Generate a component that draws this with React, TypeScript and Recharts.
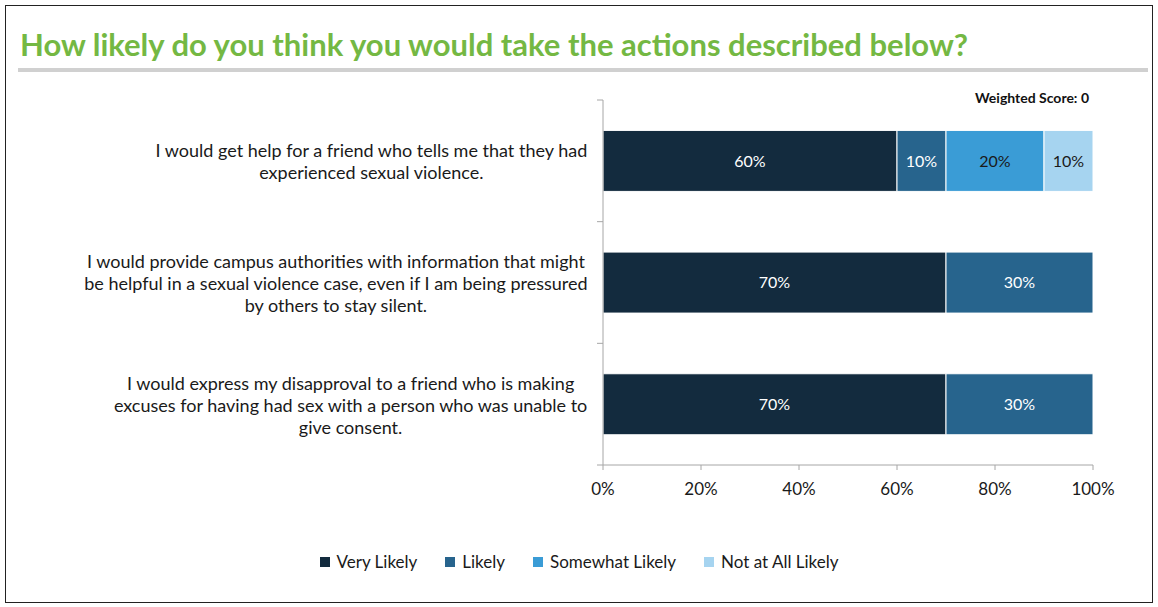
import { BarChart, Bar, XAxis, YAxis, LabelList } from "recharts"

const questionLines = [
  ["I would get help for a friend who tells me that they had", "experienced sexual violence."],
  [
    "I would provide campus authorities with information that might",
    "be helpful in a sexual violence case, even if I am being pressured",
    "by others to stay silent.",
  ],
  [
    "I would express my disapproval to a friend who is making",
    "excuses for having had sex with a person who was unable to",
    "give consent.",
  ],
]
const questions = questionLines.map((l) => l.join(" "))

const veryLikely = [60, 70, 70]
const likely = [10, 30, 30]
const somewhatLikely = [20, 0, 0]
const notAtAllLikely = [10, 0, 0]

const xTicks = [0, 20, 40, 60, 80, 100]

const SERIES = [
  { key: "veryLikely", name: "Very Likely", color: "#132b3e", text: "#ffffff" },
  { key: "likely", name: "Likely", color: "#27648d", text: "#ffffff" },
  { key: "somewhatLikely", name: "Somewhat Likely", color: "#3a9cd6", text: "#1a1a1a" },
  { key: "notAtAllLikely", name: "Not at All Likely", color: "#a6d4f0", text: "#1a1a1a" },
]

const data = questions.map((q, i) => ({
  q,
  veryLikely: veryLikely[i],
  likely: likely[i],
  somewhatLikely: somewhatLikely[i],
  notAtAllLikely: notAtAllLikely[i],
}))

const FONT = "Lato, 'Open Sans', sans-serif"
const AXIS_GREY = "#a6a6a6"
const LABEL_SIZE = 18

let ctx: CanvasRenderingContext2D | null = null
function measure(s: string, size: number) {
  if (!ctx) ctx = document.createElement("canvas").getContext("2d")
  if (!ctx) return s.length * size * 0.5
  ctx.font = `${size}px Lato`
  return ctx.measureText(s).width
}

// category label, centred lines, plus Excel-style tick marks on the band edges
function QuestionTick(props: any) {
  const { x, y, payload, index, visibleTicksCount } = props
  const lines = questionLines[payload.index ?? index] ?? [String(payload.value)]
  const lh = 22
  const w = Math.max(...lines.map((l) => measure(l, LABEL_SIZE)))
  const cx = x - 15 - w / 2
  const top = y - ((lines.length - 1) * lh) / 2 + 3
  const half = payload.offset || 0
  const isLast = index === (visibleTicksCount ?? lines.length) - 1
  return (
    <g>
      {half > 0 && <line x1={x - 6} x2={x} y1={y - half} y2={y - half} stroke={AXIS_GREY} />}
      {half > 0 && isLast && <line x1={x - 6} x2={x} y1={y + half} y2={y + half} stroke={AXIS_GREY} />}
      <text textAnchor="middle" fontFamily={FONT} fontSize={LABEL_SIZE} fill="#1a1a1a">
        {lines.map((l, i) => (
          <tspan key={i} x={cx} y={top + i * lh} dominantBaseline="middle">
            {l}
          </tspan>
        ))}
      </text>
    </g>
  )
}

function LegendBox() {
  return (
    <div
      style={{
        position: "absolute",
        left: 0,
        top: 551,
        width: 1158,
        display: "flex",
        justifyContent: "center",
        gap: 28,
        fontFamily: FONT,
        fontSize: 17,
        color: "#1a1a1a",
      }}
    >
      {SERIES.map((s) => (
        <span key={s.key} style={{ display: "flex", alignItems: "center" }}>
          <span
            style={{ width: 10, height: 10, background: s.color, marginRight: 7, display: "inline-block" }}
          />
          {s.name}
        </span>
      ))}
    </div>
  )
}

export default function App() {
  return (
    <div
      style={{
        position: "absolute",
        left: 0,
        top: 0,
        width: 1158,
        height: 607,
        background: "#fff",
        overflow: "hidden",
      }}
    >
      <div
        style={{
          position: "absolute",
          left: 5,
          top: 5,
          width: 1146,
          height: 596,
          border: "1px solid #222",
        }}
      />
      <div
        style={{
          position: "absolute",
          left: 20,
          top: 25,
          fontFamily: FONT,
          fontWeight: 700,
          fontSize: 31,
          color: "#74b843",
          whiteSpace: "nowrap",
        }}
      >
        How likely do you think you would take the actions described below?
      </div>
      <div
        style={{
          position: "absolute",
          left: 18,
          top: 68,
          width: 1130,
          height: 4,
          background: "#d0d0d0",
        }}
      />
      <div
        style={{
          position: "absolute",
          left: 975,
          top: 89,
          fontFamily: FONT,
          fontWeight: 700,
          fontSize: 14,
          color: "#111",
        }}
      >
        Weighted Score: 0
      </div>
      <div style={{ position: "absolute", left: 0, top: 0 }}>
        <BarChart
          width={1158}
          height={607}
          data={data}
          layout="vertical"
          barCategoryGap="25%"
          margin={{ top: 100, right: 65, bottom: 112, left: 0 }}
        >
          <YAxis
            type="category"
            dataKey="q"
            width={603}
            tickLine={false}
            tickSize={0}
            tickMargin={0}
            axisLine={{ stroke: AXIS_GREY }}
            tick={<QuestionTick />}
            interval={0}
          />
          <XAxis
            type="number"
            domain={[0, 100]}
            ticks={xTicks}
            tickFormatter={(v: number) => `${v}%`}
            axisLine={{ stroke: AXIS_GREY }}
            tickLine={{ stroke: AXIS_GREY }}
            tickSize={5}
            tickMargin={13}
            tick={{ fontFamily: FONT, fontSize: 17, fill: "#1a1a1a" }}
          />
          {SERIES.map((s) => (
            <Bar
              key={s.key}
              dataKey={s.key}
              name={s.name}
              stackId="a"
              fill={s.color}
              stroke="#ffffff"
              strokeWidth={1}
              isAnimationActive={false}
            >
              <LabelList
                dataKey={s.key}
                position="center"
                formatter={(v: any) => (Number(v) > 0 ? `${v}%` : "")}
                fill={s.text}
                fontFamily={FONT}
                fontSize={16}
              />
            </Bar>
          ))}
        </BarChart>
      </div>
      <LegendBox />
    </div>
  )
}
